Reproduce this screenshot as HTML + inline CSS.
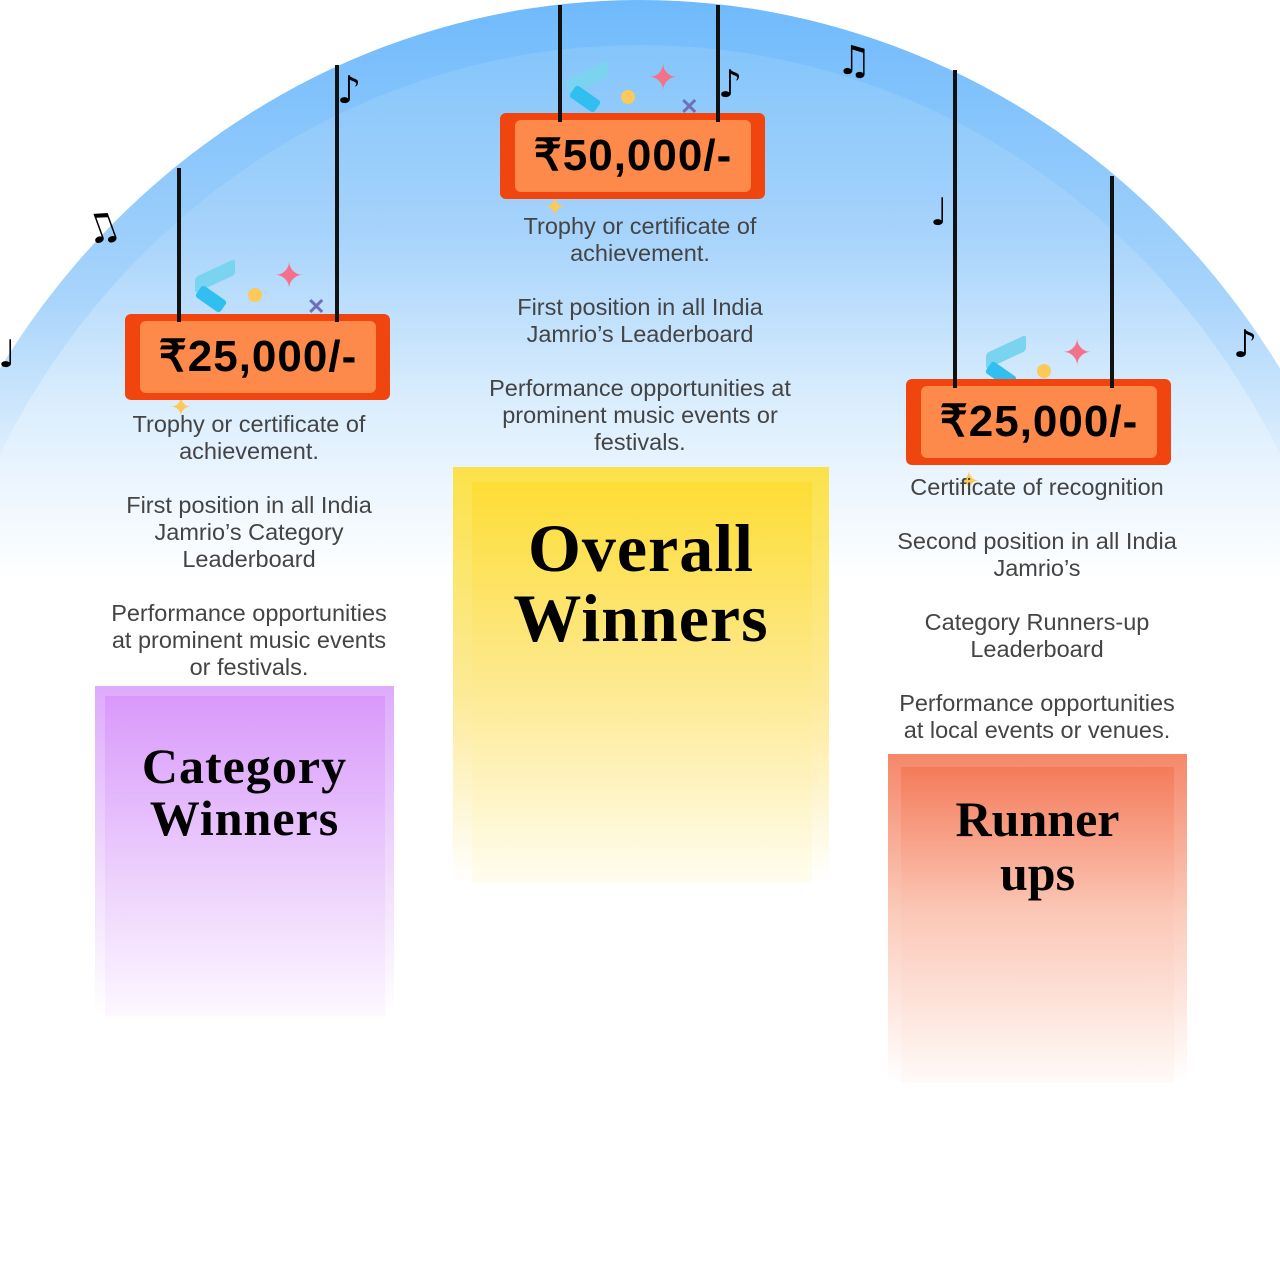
<!DOCTYPE html>
<html><head><meta charset="utf-8"><style>
*{margin:0;padding:0;box-sizing:border-box}
html,body{width:1280px;height:1264px;overflow:hidden;background:#fff}
#wrap{position:relative;width:1280px;height:1264px;overflow:hidden;font-family:"Liberation Sans",sans-serif}
.abs{position:absolute}
.txt{position:absolute;text-align:center;color:#444;font-size:23.5px;line-height:27px}
.sign{position:absolute;width:265px;height:86px;background:#f0450f;border-radius:6px}
.sign div{position:absolute;left:15px;top:7px;right:14px;bottom:7px;background:#fd8a4a;border-radius:6px;font-weight:bold;font-size:44px;color:#000;text-align:center;line-height:72px;letter-spacing:1px}
.str{position:absolute;width:4px;background:#111}
.pod{position:absolute}
.pod .in{position:absolute}
.h{position:absolute;left:0;right:0;text-align:center;font-family:"Liberation Serif",serif;font-weight:bold;color:#000}
.note{position:absolute;font-size:40px;color:#000;font-family:"DejaVu Sans",sans-serif}
</style></head><body><div id="wrap">
<svg class="abs" style="left:0;top:0" width="1280" height="1264" viewBox="0 0 1280 1264">
<defs>
<linearGradient id="g1" gradientUnits="userSpaceOnUse" x1="0" y1="0" x2="0" y2="620">
<stop offset="0" stop-color="#6fbafc"/><stop offset="0.48" stop-color="#a8d4fb"/><stop offset="0.73" stop-color="#ddeefd"/><stop offset="1" stop-color="#fff"/></linearGradient>
<linearGradient id="g2" gradientUnits="userSpaceOnUse" x1="0" y1="0" x2="0" y2="580">
<stop offset="0" stop-color="#7cc2fb"/><stop offset="0.4" stop-color="#a6d3fb"/><stop offset="0.69" stop-color="#daedfd"/><stop offset="1" stop-color="#fff"/></linearGradient>
</defs>
<ellipse cx="640" cy="800" rx="760" ry="800" fill="url(#g1)"/>
<ellipse cx="640" cy="800" rx="720" ry="755" fill="url(#g2)"/>
</svg>

<div class="abs" style="left:568px;top:70px;width:40px;height:16px;background:#7ad4f0;transform:skewY(-25deg);border-radius:3px"></div>
<div class="abs" style="left:570px;top:92px;width:30px;height:14px;background:#30bff0;transform:rotate(35deg);border-radius:3px"></div>
<div class="abs" style="left:621px;top:90px;width:14px;height:14px;background:#fcc95a;border-radius:50%"></div>
<div class="abs" style="left:648px;top:60px;color:#f5708a;font-size:36px;line-height:36px">✦</div>
<div class="abs" style="left:680px;top:96px;color:#6e6fba;font-size:22px;font-weight:bold;line-height:22px">✕</div>
<div class="abs" style="left:195px;top:268px;width:40px;height:16px;background:#7ad4f0;transform:skewY(-25deg);border-radius:3px"></div>
<div class="abs" style="left:196px;top:292px;width:30px;height:14px;background:#30bff0;transform:rotate(35deg);border-radius:3px"></div>
<div class="abs" style="left:248px;top:288px;width:14px;height:14px;background:#fcc95a;border-radius:50%"></div>
<div class="abs" style="left:274px;top:258px;color:#f5708a;font-size:36px;line-height:36px">✦</div>
<div class="abs" style="left:307px;top:296px;color:#6e6fba;font-size:22px;font-weight:bold;line-height:22px">✕</div>
<div class="abs" style="left:986px;top:344px;width:40px;height:16px;background:#7ad4f0;transform:skewY(-25deg);border-radius:3px"></div>
<div class="abs" style="left:986px;top:368px;width:30px;height:14px;background:#30bff0;transform:rotate(35deg);border-radius:3px"></div>
<div class="abs" style="left:1037px;top:364px;width:14px;height:14px;background:#fcc95a;border-radius:50%"></div>
<div class="abs" style="left:1062px;top:335px;color:#f5708a;font-size:36px;line-height:36px">✦</div>
<div class="abs" style="left:544px;top:194px;color:#fcc95a;font-size:26px;line-height:26px">✦</div>
<div class="abs" style="left:170px;top:394px;color:#fcc95a;font-size:26px;line-height:26px">✦</div>
<div class="abs" style="left:958px;top:468px;color:#fcc95a;font-size:26px;line-height:26px">✦</div>

<div class="note" style="left:84px;top:205px;transform:rotate(-20deg)">♫</div>
<div class="note" style="left:836px;top:38px">♫</div>
<div class="note" style="left:-2px;top:332px;font-size:38px">♩</div>
<div class="note" style="left:930px;top:190px;font-size:38px">♩</div>
<div class="note" style="left:337px;top:68px;font-size:38px">♪</div>
<div class="note" style="left:718px;top:62px;font-size:38px">♪</div>
<div class="note" style="left:1233px;top:322px;font-size:38px">♪</div>

<div class="str" style="left:558px;top:5px;height:118px"></div>
<div class="str" style="left:716px;top:5px;height:118px"></div>
<div class="str" style="left:177px;top:168px;height:152px"></div>
<div class="str" style="left:335px;top:65px;height:255px"></div>
<div class="str" style="left:953px;top:70px;height:317px"></div>
<div class="str" style="left:1110px;top:176px;height:211px"></div>

<div class="sign" style="left:500px;top:113px"><div>₹50,000/-</div></div>
<div class="sign" style="left:125px;top:314px"><div>₹25,000/-</div></div>
<div class="sign" style="left:906px;top:379px"><div>₹25,000/-</div></div>
<div class="str" style="left:558px;top:100px;height:22px"></div>
<div class="str" style="left:716px;top:100px;height:22px"></div>
<div class="str" style="left:177px;top:300px;height:22px"></div>
<div class="str" style="left:335px;top:300px;height:22px"></div>
<div class="str" style="left:953px;top:366px;height:22px"></div>
<div class="str" style="left:1110px;top:366px;height:22px"></div>

<div class="txt" style="left:420px;width:440px;top:213px">Trophy or certificate of<br>achievement.</div>
<div class="txt" style="left:420px;width:440px;top:294px">First position in all India<br>Jamrio’s Leaderboard</div>
<div class="txt" style="left:420px;width:440px;top:375px">Performance opportunities at<br>prominent music events or<br>festivals.</div>
<div class="txt" style="left:59px;width:380px;top:411px">Trophy or certificate of<br>achievement.</div>
<div class="txt" style="left:59px;width:380px;top:492px">First position in all India<br>Jamrio’s Category<br>Leaderboard</div>
<div class="txt" style="left:59px;width:380px;top:600px">Performance opportunities<br>at prominent music events<br>or festivals.</div>
<div class="txt" style="left:847px;width:380px;top:474px">Certificate of recognition</div>
<div class="txt" style="left:847px;width:380px;top:528px">Second position in all India<br>Jamrio’s</div>
<div class="txt" style="left:847px;width:380px;top:609px">Category Runners-up<br>Leaderboard</div>
<div class="txt" style="left:847px;width:380px;top:690px">Performance opportunities<br>at local events or venues.</div>

<div class="pod" style="left:95px;top:686px;width:299px;height:330px;background:linear-gradient(#deabfb,#f0dafc 55%,#fff)">
 <div class="in" style="left:10px;top:10px;width:280px;height:320px;background:linear-gradient(#d999fb,#eccffc 55%,#fdf8ff)"></div>
 <div class="h" style="top:54px;font-size:50px;line-height:52px;letter-spacing:1px">Category<br>Winners</div>
</div>
<div class="pod" style="left:453px;top:467px;width:376px;height:416px;background:linear-gradient(#fbe24a,#fdea98 55%,#fff)">
 <div class="in" style="left:19px;top:15px;width:340px;height:401px;background:linear-gradient(#fddd35,#fde98e 50%,#fffdf0)"></div>
 <div class="h" style="top:46px;font-size:68px;line-height:70px;letter-spacing:1px">Overall<br>Winners</div>
</div>
<div class="pod" style="left:888px;top:754px;width:299px;height:329px;background:linear-gradient(#f5876a,#fbcdbd 50%,#fff)">
 <div class="in" style="left:13px;top:13px;width:273px;height:316px;background:linear-gradient(#f47b5a,#fbc6b5 45%,#fffaf8)"></div>
 <div class="h" style="top:38px;font-size:50px;line-height:54px">Runner<br>ups</div>
</div>
</div></body></html>
